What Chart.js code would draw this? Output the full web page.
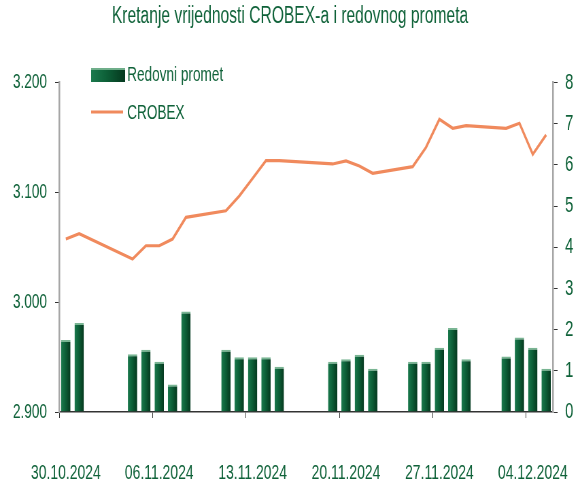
<!DOCTYPE html>
<html>
<head>
<meta charset="utf-8">
<script src="https://cdn.jsdelivr.net/npm/chart.js@4.4.1/dist/chart.umd.min.js"></script>
<style>
  body { margin: 0; background: #fff; }
</style>
</head>
<body>
<!-- drawn wide, shown squeezed: the reference uses a very condensed face -->
<canvas id="c" width="853" height="488" style="width:580px;height:488px;display:block"></canvas>
<script>
const days = ['30.10.2024', '31.10.2024', '01.11.2024', '02.11.2024', '03.11.2024', '04.11.2024', '05.11.2024',
  '06.11.2024', '07.11.2024', '08.11.2024', '09.11.2024', '10.11.2024', '11.11.2024', '12.11.2024',
  '13.11.2024', '14.11.2024', '15.11.2024', '16.11.2024', '17.11.2024', '18.11.2024', '19.11.2024',
  '20.11.2024', '21.11.2024', '22.11.2024', '23.11.2024', '24.11.2024', '25.11.2024', '26.11.2024',
  '27.11.2024', '28.11.2024', '29.11.2024', '30.11.2024', '01.12.2024', '02.12.2024', '03.12.2024',
  '04.12.2024', '05.12.2024'];
const shownLabels = ['30.10.2024', '06.11.2024', '13.11.2024', '20.11.2024', '27.11.2024', '04.12.2024'];

// redovni promet (right axis), null = no trading
const promet = [1.75, 2.16, null, null, null, 1.40, 1.51, 1.22, 0.67, 2.44, null, null, 1.51, 1.33,
  1.33, 1.33, 1.10, null, null, null, 1.22, 1.28, 1.39, 1.05, null, null, 1.22, 1.22,
  1.56, 2.04, 1.28, null, null, 1.35, 1.81, 1.56, 1.05];

// CROBEX (left axis)
const crobex = [3057.5, 3062.4, null, null, null, 3039.3, 3051.4, 3051.4, 3057.5, 3077.3, null, null, 3083.3, 3096.7,
  3112.8, 3128.9, 3128.9, null, null, null, 3125.9, 3128.6, 3124.1, 3117.4, null, null, 3123.4, 3141.1,
  3166.6, 3158.4, 3160.8, null, null, 3158.4, 3163.0, 3134.7, 3152.3];

const green = '#0f6239';
const orange = '#f08a5d';
const font = "'Liberation Sans', Arial, sans-serif";

function barFill(ctx, x0, x1) {
  const g = ctx.createLinearGradient(x0, 0, x1, 0);
  g.addColorStop(0, '#1c7a4e');
  g.addColorStop(0.45, '#0d6038');
  g.addColorStop(0.8, '#084627');
  g.addColorStop(1, '#053a20');
  return g;
}

const legendPlugin = {
  id: 'sideLegend',
  afterDraw(chart) {
    const ctx = chart.ctx;
    ctx.save();
    ctx.fillStyle = barFill(ctx, 134, 184);
    ctx.fillRect(134, 68, 50, 14);
    ctx.fillStyle = '#6fae8a';
    ctx.fillRect(134, 68, 50, 2);
    ctx.strokeStyle = orange;
    ctx.lineWidth = 3;
    ctx.beginPath();
    ctx.moveTo(134, 112);
    ctx.lineTo(181, 112);
    ctx.stroke();
    ctx.fillStyle = green;
    ctx.font = '20px ' + font;
    ctx.textBaseline = 'middle';
    ctx.fillText('Redovni promet', 187, 75);
    ctx.fillText('CROBEX', 187, 113);
    ctx.restore();
  }
};

new Chart(document.getElementById('c'), {
  data: {
    labels: days,
    datasets: [
      {
        type: 'line',
        label: 'CROBEX',
        data: crobex,
        yAxisID: 'y',
        borderColor: orange,
        borderWidth: 3.2,
        pointRadius: 0,
        spanGaps: true,
        tension: 0,
        order: 0
      },
      {
        type: 'bar',
        label: 'Redovni promet',
        data: promet,
        yAxisID: 'y1',
        backgroundColor: (c) => {
          const xs = c.chart.scales.x;
          if (!xs || c.type !== 'data') return '#0b5a35';
          const x = xs.getPixelForValue(c.dataIndex);
          const w = xs.width / days.length * 0.7;
          if (!Number.isFinite(x) || !Number.isFinite(w) || w <= 0) return '#0b5a35';
          return barFill(c.chart.ctx, x - w / 2, x + w / 2);
        },
        borderColor: '#79b593',
        borderWidth: { top: 2, left: 0, right: 0, bottom: 0 },
        barPercentage: 0.7,
        categoryPercentage: 1,
        order: 1
      }
    ]
  },
  options: {
    responsive: false,
    animation: false,
    devicePixelRatio: 1,
    layout: { padding: 0 },
    plugins: {
      legend: { display: false },
      tooltip: { enabled: false },
      title: {
        display: true,
        text: 'Kretanje vrijednosti CROBEX-a i redovnog prometa',
        color: green,
        font: { family: font, size: 23, weight: 'normal' },
        padding: { top: 3, bottom: 52 }
      }
    },
    scales: {
      x: {
        type: 'category',
        offset: true,
        grid: {
          offset: true,
          drawOnChartArea: false,
          tickLength: 6,
          color: (c) => (c.index % 7 === 0 ? '#333' : 'rgba(0,0,0,0)'),
          tickColor: (c) => (c.index % 7 === 0 ? '#333' : 'rgba(0,0,0,0)')
        },
        border: { color: '#333', width: 1.5 },
        ticks: {
          autoSkip: false,
          maxRotation: 0,
          minRotation: 0,
          padding: 43,
          color: green,
          font: { family: font, size: 20.5 },
          callback: function (v) {
            const l = this.getLabelForValue(v);
            return shownLabels.includes(l) ? l : '';
          }
        },
        afterFit: (s) => { s.height = 76; }
      },
      y: {
        position: 'left',
        min: 2900,
        max: 3200,
        grid: { drawOnChartArea: false, tickLength: 6, tickColor: '#333' },
        border: { color: '#a6a6a6', width: 2.5 },
        ticks: {
          stepSize: 100,
          padding: 12,
          color: green,
          font: { family: font, size: 20 },
          callback: (v) => (v / 1000).toFixed(3)
        },
        afterFit: (s) => { s.width = 87; }
      },
      y1: {
        position: 'right',
        min: 0,
        max: 8,
        grid: { drawOnChartArea: false, tickLength: 7, tickColor: '#333' },
        border: { color: '#a6a6a6', width: 2.5 },
        ticks: {
          stepSize: 1,
          padding: 11,
          color: green,
          font: { family: font, size: 22 }
        },
        afterFit: (s) => { s.width = 40; }
      }
    }
  },
  plugins: [legendPlugin]
});
</script>
</body>
</html>
